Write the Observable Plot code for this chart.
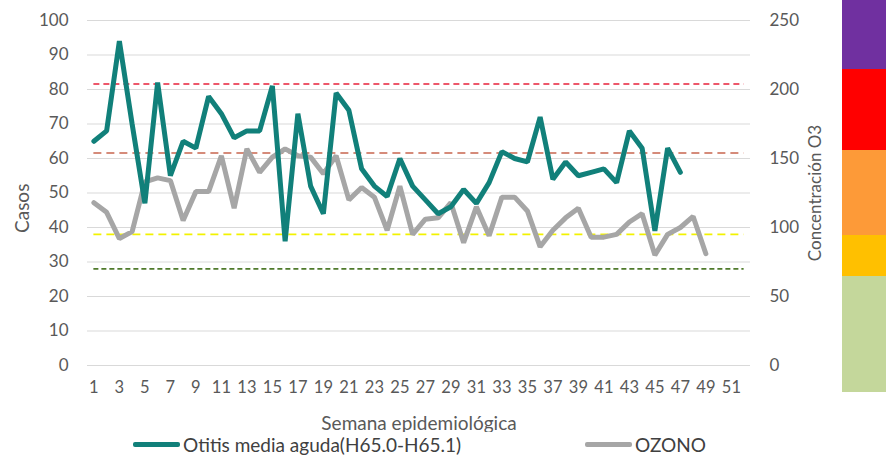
<!DOCTYPE html>
<html>
<head>
<meta charset="utf-8">
<script src="https://cdn.jsdelivr.net/npm/d3@7"></script>
<script src="https://cdn.jsdelivr.net/npm/@observablehq/plot@0.6"></script>
<style>
  body { margin: 0; background: #fff; font-family: Lato, "Open Sans", sans-serif; }
  #wrap { position: relative; width: 886px; height: 457px; overflow: hidden; }
  #legend { position: absolute; top: 433px; left: 0; width: 886px; height: 24px; font-size: 19px; color: #404040; }
  .lg { position: absolute; top: 0px; display: flex; align-items: center; white-space: nowrap; }
  .sw { width: 47px; height: 5px; margin-right: 3px; border-radius: 2px; }
  #bar { position: absolute; left: 842px; top: 0; width: 44px; }
  #bar div { width: 44px; }
</style>
</head>
<body>
<div id="wrap">
  <div id="chart"></div>
  <div id="bar"></div>
  <div id="legend"></div>
</div>
<script>
// Semana epidemiológica
const weeks = d3.range(1, 53);
const xTickLabels = d3.range(1, 52, 2);

// Otitis media aguda (H65.0-H65.1), casos, semanas 1-47
const otitis = [65,68,94,70,47,82,55,65,63,78,73,66,68,68,81,36,73,52,44,79,74,57,52,49,60,52,48,44,46,51,47,53,62,60,59,72,54,59,55,56,57,53,68,63,39,63,56];

// OZONO, concentración O3, semanas 1-49
const ozono = [118,111,92,97,133,136,134,105,126,126,152,114,157,140,151,157,152,151,139,152,120,129,122,98,130,95,106,107,118,89,115,94,122,122,112,86,98,107,114,93,93,95,104,110,80,95,100,108,81];

// Umbrales de ozono (eje secundario)
const umbrales = [204, 154, 95, 70];
const umbralColores = ["#e8203a", "#c8664f", "#f2f200", "#4f7a2b"];
const umbralDash = ["6,4", "8,5", "8,5", "5,3"];

// Escala de colores lateral
const barColors = ["#7030a0", "#ff0000", "#fd9a38", "#ffc000", "#c4d79b"];
const barHeights = [69, 81, 85, 41, 116];

const leftTicks = d3.range(0, 101, 10);
const ratio = 2.5; // 250 / 100

const otitisData = otitis.map((v, i) => ({week: weeks[i], v}));
const ozonoData = ozono.map((v, i) => ({week: weeks[i], v}));
const umbralData = umbrales.map((v, i) => ({v, c: umbralColores[i], d: umbralDash[i]}));

const font = "Lato, 'Open Sans', sans-serif";

const plot = Plot.plot({
  width: 886,
  height: 432,
  marginLeft: 87,
  marginRight: 136,
  marginTop: 20,
  marginBottom: 67,
  style: {fontFamily: font, fontSize: "17px", color: "#595959", background: "transparent"},
  x: {domain: [0.5, 52.5]},
  y: {domain: [0, 100]},
  marks: [
    Plot.gridY(leftTicks, {stroke: "#d9d9d9", strokeOpacity: 1, strokeWidth: 1}),
    Plot.axisY({anchor: "left", ticks: leftTicks, tickSize: 0, tickPadding: 19, label: null, fontSize: 17}),
    Plot.axisY({anchor: "right", ticks: d3.range(0, 101, 20), tickFormat: d => d * ratio, tickSize: 0, tickPadding: 19,
      label: "Concentración O3", labelAnchor: "center", labelOffset: 70, labelArrow: "none", fontSize: 17}),
    Plot.axisX({ticks: xTickLabels, tickSize: 0, tickPadding: 16, fontSize: 16.5, label: null}),
    Plot.text(["Semana epidemiológica"], {frameAnchor: "bottom", dy: 64, fontSize: 19, fill: "#595959"}),
    Plot.text(["Casos"], {frameAnchor: "left", rotate: -90, dx: -65, dy: 40, fontSize: 19, fill: "#595959"}),
    ...umbralData.map(u => Plot.ruleY([u.v], {y: d => d / ratio, x1: weeks[0], x2: weeks[weeks.length - 1],
      stroke: u.c, strokeWidth: 1.6, strokeDasharray: u.d})),
    Plot.line(ozonoData, {x: "week", y: d => d.v / ratio, stroke: "#a6a6a6", strokeWidth: 5, strokeLinejoin: "miter"}),
    Plot.line(otitisData, {x: "week", y: "v", stroke: "#11807a", strokeWidth: 5, strokeLinejoin: "miter"})
  ]
});
document.getElementById("chart").appendChild(plot);

// side colour bar
const bar = d3.select("#bar");
barColors.forEach((c, i) => bar.append("div").style("background", c).style("height", barHeights[i] + "px"));

// legend
const legend = d3.select("#legend");
const items = [
  {label: "Otitis media aguda(H65.0-H65.1)", color: "#11807a", left: 133},
  {label: "OZONO", color: "#a6a6a6", left: 585}
];
items.forEach(it => {
  const g = legend.append("div").attr("class", "lg").style("left", it.left + "px");
  g.append("div").attr("class", "sw").style("background", it.color);
  g.append("span").text(it.label);
});
</script>
</body>
</html>
